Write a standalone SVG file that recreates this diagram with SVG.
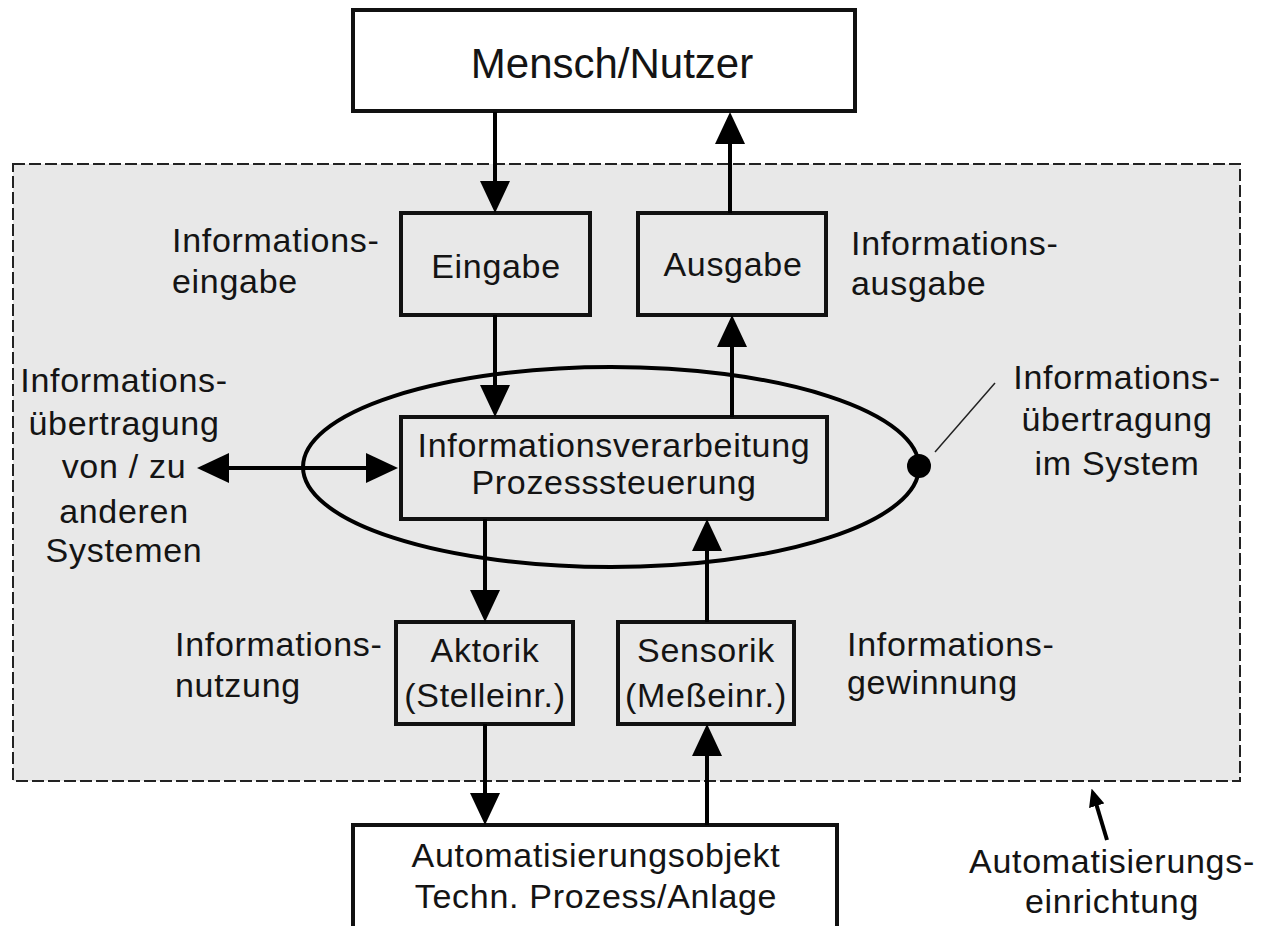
<svg xmlns="http://www.w3.org/2000/svg" width="1264" height="926" viewBox="0 0 1264 926">
<defs>
<style>
.t{font-family:"Liberation Sans",Arial,sans-serif;font-size:34px;letter-spacing:0.7px;fill:#141414}
.c{text-anchor:middle}
.box{fill:none;stroke:#111;stroke-width:4}
.wbox{fill:#fff;stroke:#111;stroke-width:4}
.ar{stroke:#000;stroke-width:4;fill:none}
</style>
<marker id="ah" viewBox="0 0 32 30" markerWidth="32" markerHeight="30" markerUnits="userSpaceOnUse" refX="12" refY="15" orient="auto-start-reverse">
<path d="M0,0 L32,15 L0,30 z" fill="#000"/>
</marker>
<marker id="ahs" viewBox="0 0 18 16" markerWidth="18" markerHeight="16" markerUnits="userSpaceOnUse" refX="6" refY="8" orient="auto">
<path d="M0,0 L18,8 L0,16 z" fill="#000"/>
</marker>
</defs>
<rect x="0" y="0" width="1264" height="926" fill="#fff"/>

<g id="automatisierungseinrichtung">
<rect x="13" y="164" width="1227" height="617" fill="#e8e8e8" stroke="#222" stroke-width="2" stroke-dasharray="12,4"/>
</g>

<g id="mensch">
<rect class="wbox" x="353" y="10" width="502" height="101"/>
<text class="t c" x="612" y="78" style="font-size:42px;letter-spacing:0">Mensch/Nutzer</text>
</g>

<g id="eingabe">
<rect class="box" x="401" y="213" width="189" height="102"/>
<text class="t c" x="496" y="278">Eingabe</text>
</g>

<g id="ausgabe">
<rect class="box" x="638" y="213" width="188" height="102"/>
<text class="t c" x="733" y="276">Ausgabe</text>
</g>

<g id="ellipse">
<ellipse cx="611" cy="467" rx="308" ry="100" fill="none" stroke="#000" stroke-width="4"/>
<circle cx="919" cy="466" r="12" fill="#000"/>
</g>

<g id="verarbeitung">
<rect class="box" x="401" y="417" width="426" height="102"/>
<text class="t c" x="614" y="457">Informationsverarbeitung</text>
<text class="t c" x="614" y="494">Prozesssteuerung</text>
</g>

<g id="aktorik">
<rect class="box" x="396" y="622" width="177" height="102"/>
<text class="t c" x="485" y="662">Aktorik</text>
<text class="t c" x="485" y="707">(Stelleinr.)</text>
</g>

<g id="sensorik">
<rect class="box" x="618" y="622" width="176" height="102"/>
<text class="t c" x="706" y="662">Sensorik</text>
<text class="t c" x="706" y="707">(Meßeinr.)</text>
</g>

<g id="automatisierungsobjekt">
<rect class="wbox" x="353" y="825" width="484" height="110"/>
<text class="t c" x="596" y="867">Automatisierungsobjekt</text>
<text class="t c" x="596" y="908">Techn. Prozess/Anlage</text>
</g>

<g id="labels">
<text class="t" x="172" y="252">Informations-</text>
<text class="t" x="172" y="293">eingabe</text>
<text class="t" x="851" y="255">Informations-</text>
<text class="t" x="851" y="295">ausgabe</text>
<text class="t c" x="124" y="392">Informations-</text>
<text class="t c" x="124" y="435">übertragung</text>
<text class="t c" x="124" y="478">von / zu</text>
<text class="t c" x="124" y="523">anderen</text>
<text class="t c" x="124" y="562">Systemen</text>
<text class="t c" x="1117" y="389">Informations-</text>
<text class="t c" x="1117" y="431">übertragung</text>
<text class="t c" x="1117" y="475">im System</text>
<text class="t" x="175" y="656">Informations-</text>
<text class="t" x="175" y="697">nutzung</text>
<text class="t" x="847" y="656">Informations-</text>
<text class="t" x="847" y="694">gewinnung</text>
<text class="t c" x="1112" y="873">Automatisierungs-</text>
<text class="t c" x="1112" y="913">einrichtung</text>
</g>

<g id="connectors">
<line class="ar" x1="495" y1="112" x2="495" y2="193" stroke-width="3" marker-end="url(#ah)"/>
<line class="ar" x1="730" y1="213" x2="730" y2="132" marker-end="url(#ah)"/>
<line class="ar" x1="495" y1="315" x2="495" y2="397" stroke-width="5" marker-end="url(#ah)"/>
<line class="ar" x1="732" y1="417" x2="732" y2="335" stroke-width="3" marker-end="url(#ah)"/>
<line class="ar" x1="485" y1="519" x2="485" y2="602" stroke-width="4" marker-end="url(#ah)"/>
<line class="ar" x1="707" y1="622" x2="707" y2="539" stroke-width="3" marker-end="url(#ah)"/>
<line class="ar" x1="485" y1="724" x2="485" y2="805" stroke-width="5" marker-end="url(#ah)"/>
<line class="ar" x1="707" y1="825" x2="707" y2="744" stroke-width="5" marker-end="url(#ah)"/>
<line class="ar" x1="217" y1="468" x2="378" y2="468" stroke-width="4" marker-start="url(#ah)" marker-end="url(#ah)"/>
<line x1="935" y1="452" x2="995" y2="383" stroke="#222" stroke-width="1.5"/>
<line class="ar" x1="1107" y1="840" x2="1095" y2="800" stroke-width="3" marker-end="url(#ahs)"/>
</g>
</svg>
